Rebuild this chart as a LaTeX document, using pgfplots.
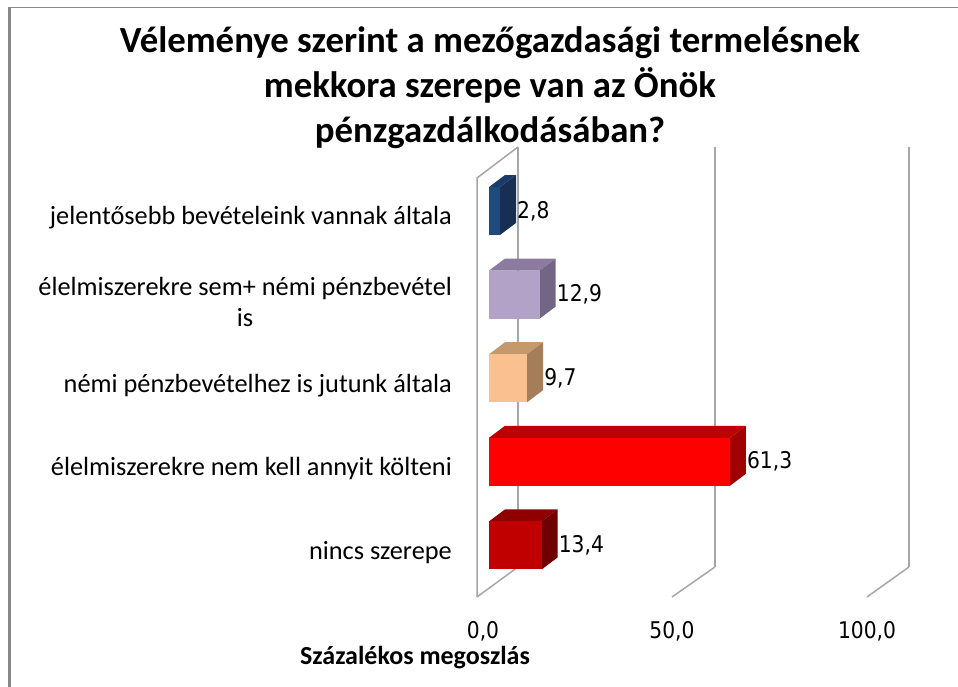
\documentclass[border=0pt]{standalone}
\usepackage{fontspec}
\setmainfont{Carlito}
\newfontfamily\numfont[FakeStretch=0.88]{DejaVu Sans}
\usepackage{pgfplots}
\pgfplotsset{compat=1.18}
\definecolor{b1f}{HTML}{1F4A7E}\definecolor{b1t}{HTML}{1B3B68}\definecolor{b1s}{HTML}{172F55}
\definecolor{b2f}{HTML}{B3A2C7}\definecolor{b2t}{HTML}{8C7BA0}\definecolor{b2s}{HTML}{736684}
\definecolor{b3f}{HTML}{FAC090}\definecolor{b3t}{HTML}{C4996C}\definecolor{b3s}{HTML}{A47E58}
\definecolor{b4f}{HTML}{FF0000}\definecolor{b4t}{HTML}{C00000}\definecolor{b4s}{HTML}{A00000}
\definecolor{b5f}{HTML}{C00000}\definecolor{b5t}{HTML}{900000}\definecolor{b5s}{HTML}{700000}
\definecolor{gridc}{HTML}{A6A6A6}
\definecolor{framec}{HTML}{888888}
\begin{document}
\begin{tikzpicture}
\path[use as bounding box] (0,0) rectangle (958bp,687bp);
\draw[color=framec, line width=1.2bp] (9.5bp,679.5bp) -- (958bp,679.5bp);
\draw[color=framec, line width=3bp] (9.5bp,0) -- (9.5bp,680bp);
\begin{axis}[
  at={(0,0)}, anchor=south west,
  scale only axis, width=958bp, height=687bp,
  xmin=-124.43, xmax=119.34,
  ymin=-2.524, ymax=5.694, y dir=reverse,
  clip=false,
  axis line style={draw=none},
  major tick length=0pt,
  xtick={-1.53,46.56,96.18},
  xticklabels={{0,0},{50,0},{100,0}},
  xticklabel style={anchor=center, inner sep=0pt, yshift=56bp, font=\numfont\fontsize{23bp}{27bp}\selectfont},
  ytick={0,1,2,3,4},
  yticklabels={{jelentősebb bevételeink vannak általa},{élelmiszerekre sem+ némi pénzbevétel\\is},{némi pénzbevételhez is jutunk általa},{élelmiszerekre nem kell annyit költeni},{nincs szerepe}},
  yticklabel style={anchor=east, align=center, inner sep=0pt, xshift=452bp, yshift=-7bp, font=\fontsize{26.3bp}{31bp}\selectfont},
  xlabel={Százalékos megoszlás},
  xlabel style={at={(axis description cs:0.4332,0.0422)}, anchor=center, inner sep=0pt, font=\fontsize{26bp}{31bp}\selectfont\bfseries},
  title={Véleménye szerint a mezőgazdasági termelésnek\\mekkora szerepe van az Önök\\pénzgazdálkodásában?},
  title style={at={(axis description cs:0.5115,0.9534)}, anchor=north, align=center, inner sep=0pt, font=\fontsize{36.8bp}{45bp}\selectfont\bfseries},
  front/.style={xbar, bar width=48bp, bar shift=0pt, draw=none,
    nodes near coords, point meta=explicit symbolic,
    every node near coord/.append style={anchor=west, xshift=17bp, inner sep=0pt, text=black, font=\numfont\fontsize{23bp}{27bp}\selectfont}},
]
% back wall verticals and floor lines
\addplot[gridc, line width=1.5bp] coordinates {(7.38,-0.766) (7.38,4.258)};
\addplot[gridc, line width=1.5bp] coordinates {(57.5,-0.766) (57.5,4.258)};
\addplot[gridc, line width=1.5bp] coordinates {(106.87,-0.766) (106.87,4.258)};
\addplot[gridc, line width=1.5bp] coordinates {(-3.05,4.617) (7.38,4.258)};
\addplot[gridc, line width=1.5bp] coordinates {(46.56,4.617) (57.5,4.258)};
\addplot[gridc, line width=1.5bp] coordinates {(96.18,4.617) (106.87,4.258)};
% left wall
\addplot[gridc, line width=1.5bp] coordinates {(7.38,-0.766) (-3.05,-0.395) (-3.05,4.617)};
% bar 1: 2.8
\addplot[fill=b1t, draw=none] coordinates {(0,-0.287) (2.8,-0.287) (6.87,-0.4305) (4.07,-0.4305)} -- cycle;
\addplot[fill=b1s, draw=none] coordinates {(2.8,-0.287) (6.87,-0.4305) (6.87,0.1435) (2.8,0.287)} -- cycle;
\addplot[front, fill=b1f] coordinates {(2.8,0) [2,8]};
% bar 2: 12.9
\addplot[fill=b2t, draw=none] coordinates {(0,0.713) (12.9,0.713) (16.97,0.5695) (4.07,0.5695)} -- cycle;
\addplot[fill=b2s, draw=none] coordinates {(12.9,0.713) (16.97,0.5695) (16.97,1.1435) (12.9,1.287)} -- cycle;
\addplot[front, fill=b2f] coordinates {(12.9,1) [12,9]};
% bar 3: 9.7
\addplot[fill=b3t, draw=none] coordinates {(0,1.713) (9.7,1.713) (13.77,1.5695) (4.07,1.5695)} -- cycle;
\addplot[fill=b3s, draw=none] coordinates {(9.7,1.713) (13.77,1.5695) (13.77,2.1435) (9.7,2.287)} -- cycle;
\addplot[front, fill=b3f] coordinates {(9.7,2) [9,7]};
% bar 4: 61.3
\addplot[fill=b4t, draw=none] coordinates {(0,2.713) (61.3,2.713) (65.37,2.5695) (4.07,2.5695)} -- cycle;
\addplot[fill=b4s, draw=none] coordinates {(61.3,2.713) (65.37,2.5695) (65.37,3.1435) (61.3,3.287)} -- cycle;
\addplot[front, fill=b4f] coordinates {(61.3,3) [61,3]};
% bar 5: 13.4
\addplot[fill=b5t, draw=none] coordinates {(0,3.713) (13.4,3.713) (17.47,3.5695) (4.07,3.5695)} -- cycle;
\addplot[fill=b5s, draw=none] coordinates {(13.4,3.713) (17.47,3.5695) (17.47,4.1435) (13.4,4.287)} -- cycle;
\addplot[front, fill=b5f] coordinates {(13.4,4) [13,4]};
\end{axis}
\end{tikzpicture}
\end{document}
